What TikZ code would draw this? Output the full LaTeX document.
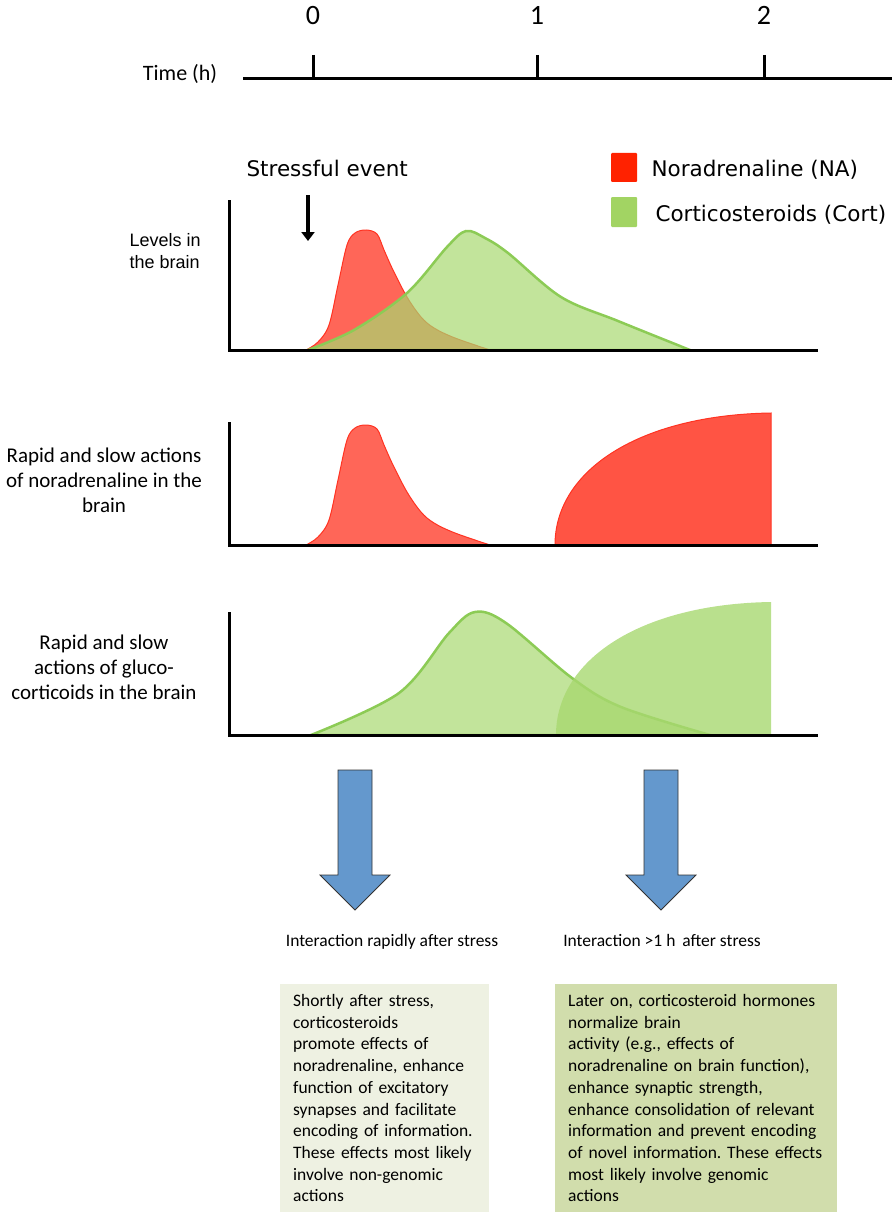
\documentclass[tikz,border=0pt]{standalone}
\usepackage{fontspec}
\setmainfont{Carlito}
\newfontfamily\verdfont{DejaVu Sans}
\newfontfamily\arialfont{Liberation Sans}
\usetikzlibrary{arrows.meta}
\definecolor{nastroke}{HTML}{FF3322}
\definecolor{nafill}{HTML}{FF6658}
\definecolor{naslow}{HTML}{FF5444}
\definecolor{nakey}{HTML}{FF2200}
\definecolor{cortstroke}{HTML}{8CCB55}
\definecolor{cortfill}{HTML}{A8D870}
\definecolor{cortkey}{HTML}{A2D463}
\definecolor{flowblue}{HTML}{6498CD}
\definecolor{earlybg}{HTML}{EEF1E2}
\definecolor{latebg}{HTML}{D1DDAC}
\frenchspacing
\hyphenpenalty=10000

\begin{document}
\begin{tikzpicture}[x=1pt, y=-1pt, >=Triangle,
    axis/.style={line width=3pt, line join=miter},
    napeak/.style={fill=nafill, draw=nastroke, line width=1pt},
    cortpeak/.style={fill=cortfill, fill opacity=0.7, draw=cortstroke,
      draw opacity=1, line width=2.5pt},
    bluearrow/.style={fill=flowblue, draw=black!80, line width=0.8pt},
    ticklbl/.style={font=\fontsize{28}{30}\selectfont, anchor=base},
    keytext/.style={font=\verdfont\fontsize{21.5}{24}\selectfont, anchor=base west},
    rowlbl/.style={font=\fontsize{21}{25}\selectfont, align=center},
    steplbl/.style={font=\fontsize{17.5}{20}\selectfont, anchor=base},
    infobox/.style={font=\fontsize{17.5}{21.7}\selectfont, align=left,
      anchor=north west, inner xsep=13pt, minimum height=228pt} ]
  \useasboundingbox (0,0) rectangle (892,1217);

  \node[font=\fontsize{22}{24}\selectfont, anchor=base] (timelbl) at (180,81) {Time (h)};
  \draw[axis] (243,79) -- (892,79);
  \foreach \x/\t in {313/0,537/1,764/2} {
    \draw[axis] (\x,55) -- (\x,79);
    \node[ticklbl] (tick\t) at (\x,25) {\t};
  }

  \node[font=\verdfont\fontsize{21.5}{24}\selectfont, anchor=base west] (stress) at (243,176) {Stressful event};
  \coordinate (evtop) at (308,195);
  \coordinate (onset) at (308,241);
  \draw[->, line width=4pt, arrows={-Triangle[length=9pt, width=13pt]}] (evtop) -- (onset);

  \fill[nakey, rounded corners=1pt] (611,153) rectangle (637,182);
  \fill[cortkey, rounded corners=1pt] (611,197) rectangle (637,227);
  \node[keytext] (keyna) at (648,176) {Noradrenaline (NA)};
  \node[keytext] (keycort) at (652,221) {Corticosteroids (Cort)};

  \node[font=\arialfont\fontsize{18}{22}\selectfont, align=left, anchor=west] (lvl) at (126,251) {Levels in\\the brain};
  \node[rowlbl] (nalbl) at (104,480) {Rapid and slow actions\\of noradrenaline in the\\brain};
  \node[rowlbl] (gclbl) at (104,667) {Rapid and slow\\actions of gluco-\\corticoids in the brain};

  \foreach \base in {350,545}
  \filldraw[napeak, shift={(0,\base)}] plot[smooth, tension=0.55] coordinates {(306,0) (318,-8) (329,-25) (338,-65) (347,-105) (355,-117) (366,-120) (377,-116) (384,-100) (393,-80) (407,-53) (421,-33) (434,-22) (455,-12) (490,0)} -- cycle;
  \filldraw[cortpeak] plot[smooth, tension=0.55] coordinates {(308,350) (354,330) (407,293) (447,247) (466,231) (485,238) (508,253) (561,297) (618,321) (690,350)} -- cycle;

  \filldraw[fill=naslow, draw=nastroke, line width=1pt] (555,545) .. controls (555,470) and (640,415) .. (771,413) -- (771,545) -- cycle;

  \filldraw[cortpeak] plot[smooth, tension=0.55] coordinates {(311,735) (399,693) (449,633) (475,612) (506,623) (572,678) (621,707) (710,735)} -- cycle;
  \fill[cortfill, fill opacity=0.8] (556,735) .. controls (556,660) and (640,604) .. (771,602) -- (771,735) -- cycle;

  \foreach \top/\base in {200/350,422/545,612/735}
  \draw[axis] (229,\top) -- (229,\base) -- (818,\base);

  \foreach \c/\w in {355/17,661/17}
  \draw[bluearrow] (\c-\w,770) -- (\c+\w,770) -- (\c+\w,875) -- (\c+35,875) -- (\c,910) -- (\c-35,875) -- (\c-\w,875) -- cycle;

  \node[steplbl] (rapid) at (392,946) {Interaction rapidly after stress};
  \node[steplbl] (late) at (662,946) {Interaction >1 h\, after stress};

  \node[infobox, fill=earlybg, text width=183pt] (earlybox) at (280,984) {Shortly after stress,\\corticosteroids\\promote effects of\\noradrenaline, enhance\\function of excitatory\\synapses and facilitate\\encoding of information.\\These effects most likely\\involve non-genomic\\actions};
  \node[infobox, fill=latebg, text width=256pt] (latebox) at (555,984) {Later on, corticosteroid hormones\\normalize brain\\activity (e.g., effects of\\noradrenaline on brain function),\\enhance synaptic strength,\\enhance consolidation of relevant\\information and prevent encoding\\of novel information. These effects\\most likely involve genomic\\actions};
\end{tikzpicture}
\end{document}
